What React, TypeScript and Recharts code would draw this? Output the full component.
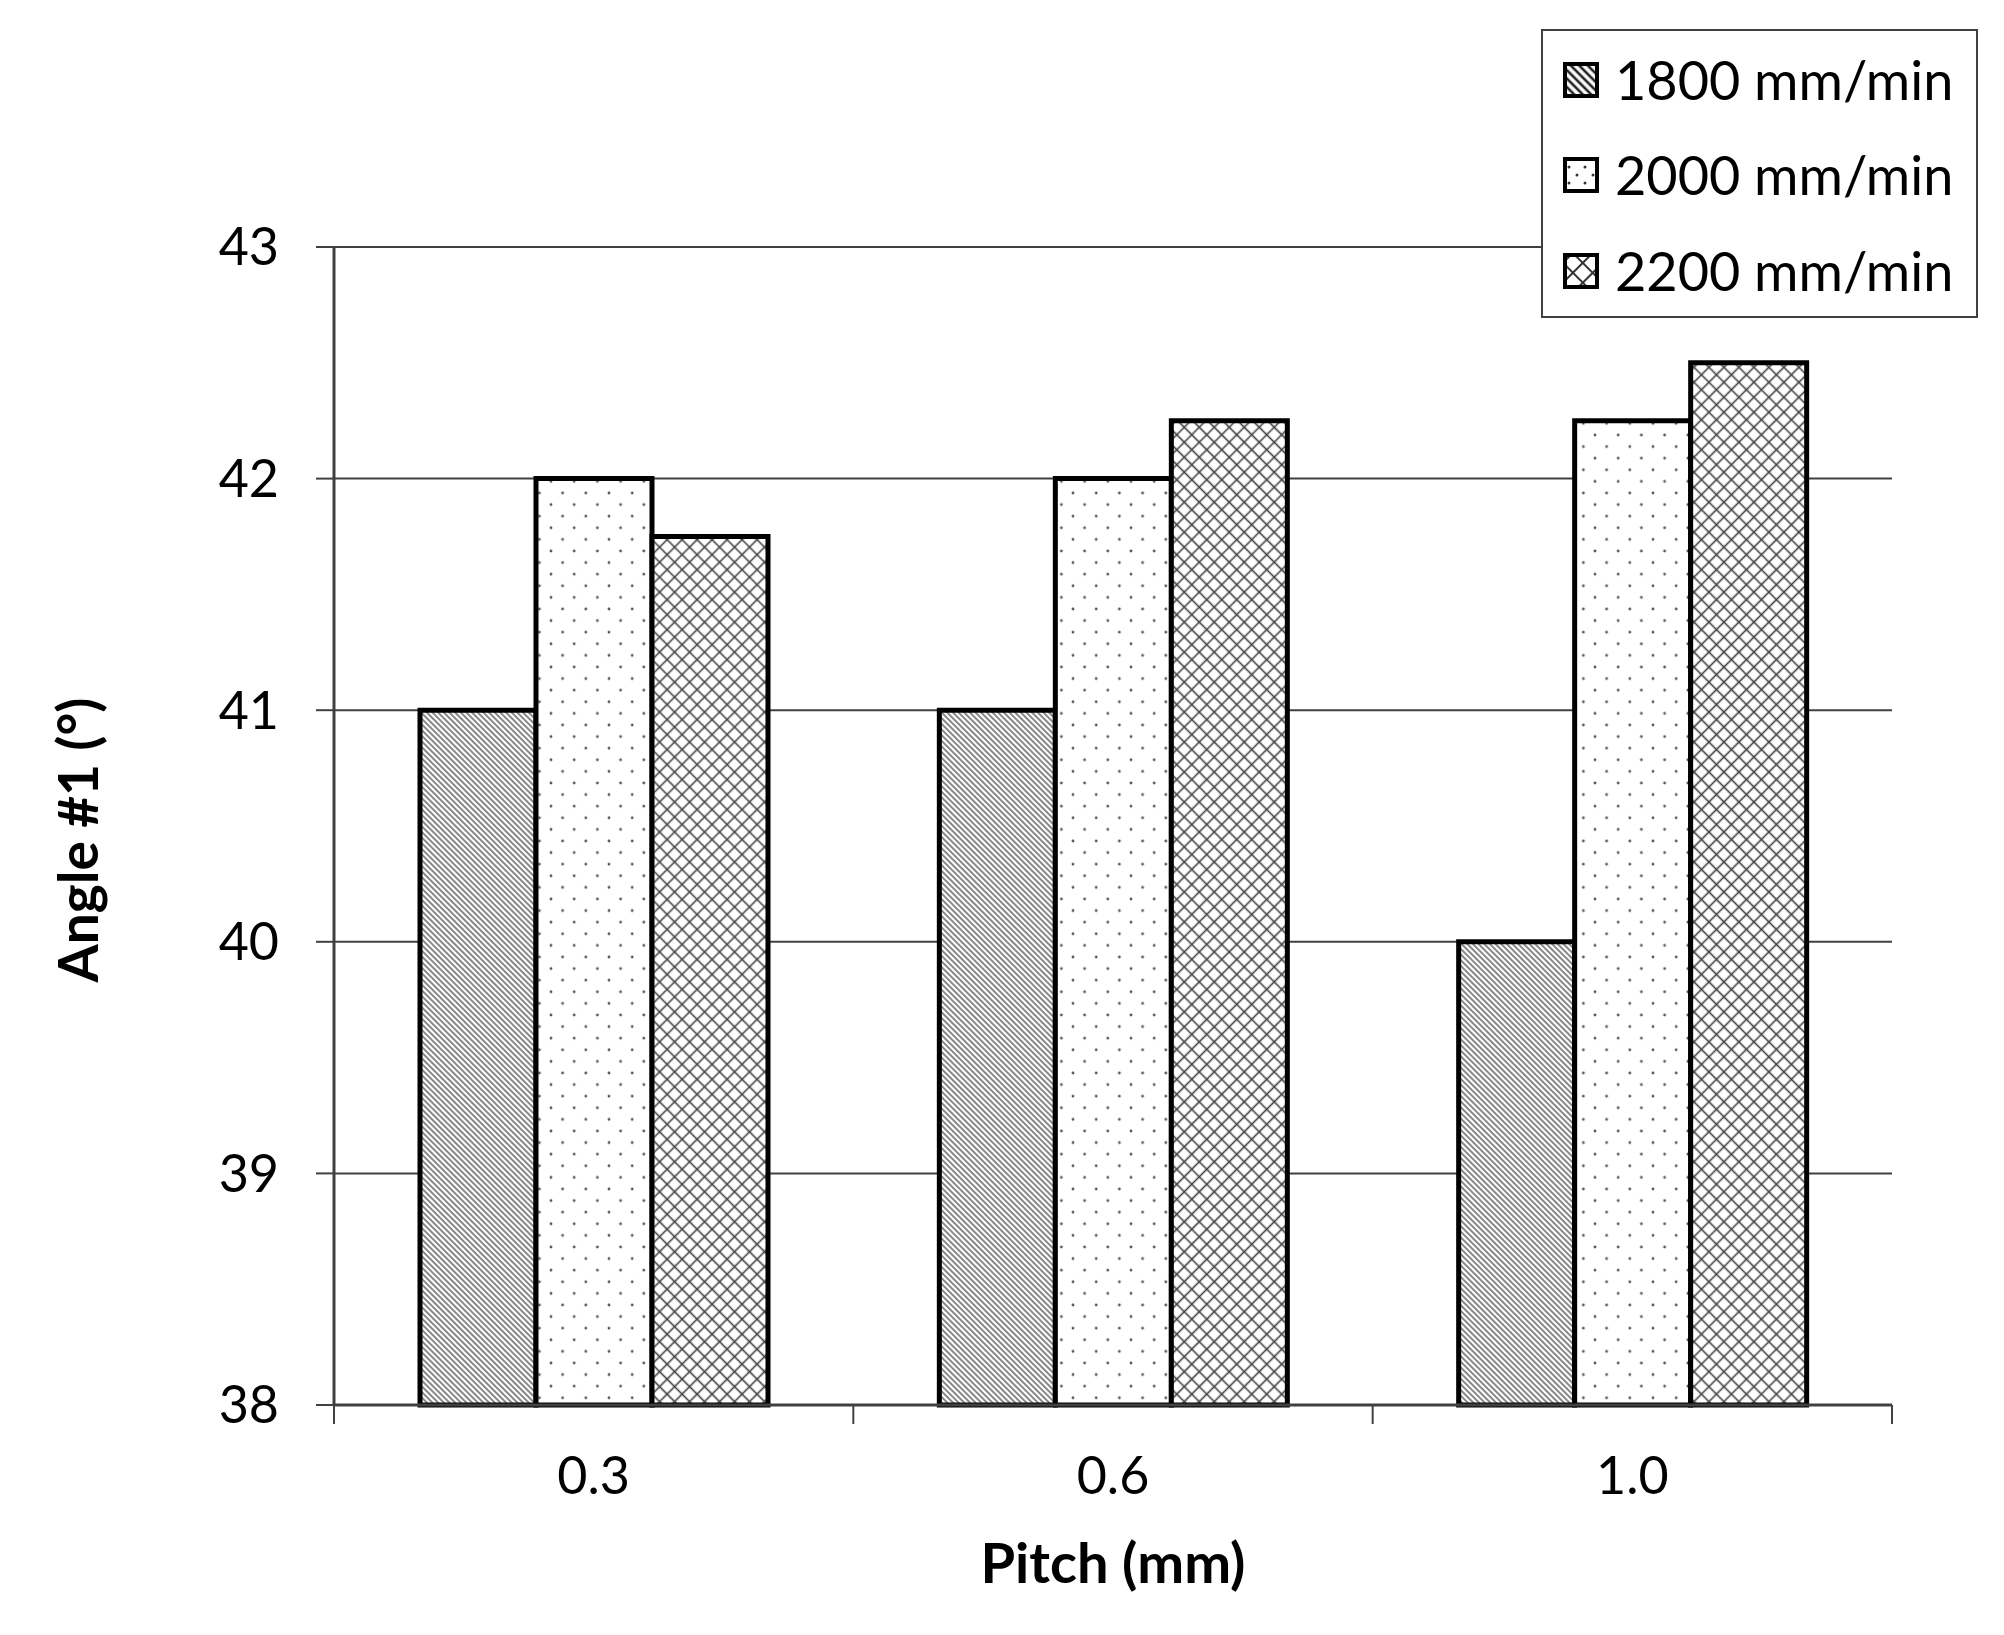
import React from "react";
import { BarChart, Bar, XAxis, YAxis, CartesianGrid, Legend } from "recharts";

const pitchLabels = ["0.3", "0.6", "1.0"];
const angle1800 = [41, 41, 40];
const angle2000 = [42, 42, 42.25];
const angle2200 = [41.75, 42.25, 42.5];
const angleTicks = [38, 39, 40, 41, 42, 43];
const seriesNames = ["1800 mm/min", "2000 mm/min", "2200 mm/min"];

const data = pitchLabels.map((pitch, i) => ({
  pitch,
  f1800: angle1800[i],
  f2000: angle2000[i],
  f2200: angle2200[i],
}));

const series = [
  { key: "f1800", name: seriesNames[0], fill: "url(#hatch1800)", swatch: "url(#lgHatch1800)" },
  { key: "f2000", name: seriesNames[1], fill: "url(#dots2000)", swatch: "url(#lgDots2000)" },
  { key: "f2200", name: seriesNames[2], fill: "url(#cross2200)", swatch: "url(#lgCross2200)" },
];

const W = 2004;
const H = 1635;
const margin = { top: 247, right: 112, bottom: 0, left: 0 };
const Y_W = 334;
const X_H = 230;
const band = (W - margin.right - Y_W) / pitchLabels.length;
const FONT = "Lato, 'Open Sans', sans-serif";
const INK = "#404040";

const PitchTick = (props: any) => {
  const { x, y, payload, index } = props;
  const half = band / 2;
  return (
    <g>
      <line x1={x - half} x2={x - half} y1={y} y2={y + 19} stroke={INK} strokeWidth={2} />
      {index === pitchLabels.length - 1 && (
        <line x1={x + half} x2={x + half} y1={y} y2={y + 19} stroke={INK} strokeWidth={2} />
      )}
      <text x={x} y={y + 89} textAnchor="middle" fontSize={52} fontFamily={FONT} fill="#000">
        {payload.value}
      </text>
    </g>
  );
};

const XTitle = (props: any) => {
  const vb = props.viewBox;
  return (
    <text
      x={vb.x + vb.width / 2}
      y={vb.y + vb.height - 52}
      textAnchor="middle"
      fontSize={56}
      fontWeight={700}
      fontFamily={FONT}
      fill="#000"
    >
      Pitch (mm)
    </text>
  );
};

const YTitle = (props: any) => {
  const vb = props.viewBox;
  const cy = vb.y + vb.height / 2 + 14;
  return (
    <text
      transform={`translate(98, ${cy}) rotate(-90)`}
      textAnchor="middle"
      fontSize={55}
      fontWeight={700}
      fontFamily={FONT}
      fill="#000"
    >
      Angle #1 (°)
    </text>
  );
};

const LegendBox = () => (
  <div
    style={{
      width: 437,
      height: 289,
      boxSizing: "border-box",
      border: `2px solid ${INK}`,
      background: "#fff",
      paddingTop: 1,
    }}
  >
    <svg width={0} height={0} style={{ position: "absolute" }}>
      <defs>
        <pattern id="lgHatch1800" patternUnits="userSpaceOnUse" width={8} height={6} patternTransform="rotate(45)">
          <rect width={8} height={6} fill="#fff" />
          <line x1={0} y1={3} x2={8} y2={3} stroke="#222" strokeWidth={2.6} />
        </pattern>
        <pattern id="lgDots2000" patternUnits="userSpaceOnUse" width={16} height={16}>
          <rect width={16} height={16} fill="#fff" />
          <circle cx={6} cy={10} r={1.5} fill="#333" />
          <circle cx={14} cy={2} r={1.5} fill="#333" />
        </pattern>
        <pattern id="lgCross2200" patternUnits="userSpaceOnUse" width={14} height={14} patternTransform="rotate(45)">
          <rect width={14} height={14} fill="#fff" />
          <line x1={0} y1={7} x2={14} y2={7} stroke="#333" strokeWidth={2} />
          <line x1={7} y1={0} x2={7} y2={14} stroke="#333" strokeWidth={2} />
        </pattern>
      </defs>
    </svg>
    {series.map((s) => (
      <div
        key={s.key}
        style={{ height: 95.5, display: "flex", alignItems: "center", paddingLeft: 20 }}
      >
        <svg width={36} height={36} style={{ flex: "none" }}>
          <rect x={2} y={2} width={32} height={32} fill={s.swatch} stroke="#000" strokeWidth={4} />
        </svg>
        <span style={{ marginLeft: 16, fontSize: 54, fontFamily: FONT, color: "#000", lineHeight: 1 }}>
          {s.name}
        </span>
      </div>
    ))}
  </div>
);

export default function App() {
  return (
    <div style={{ position: "absolute", left: 0, top: 0, background: "#fff" }}>
      <BarChart width={W} height={H} data={data} margin={margin} barGap={0} barSize={116}>
        <defs>
          <pattern id="hatch1800" patternUnits="userSpaceOnUse" width={8} height={4} patternTransform="rotate(45)">
            <rect width={8} height={4} fill="#fff" />
            <line x1={0} y1={2} x2={8} y2={2} stroke="#555" strokeWidth={1.4} />
          </pattern>
          <pattern id="dots2000" patternUnits="userSpaceOnUse" width={23.2} height={23.2}>
            <rect width={23.2} height={23.2} fill="#fff" />
            <circle cx={5.8} cy={5.8} r={1.4} fill="#555" />
            <circle cx={17.4} cy={17.4} r={1.4} fill="#555" />
          </pattern>
          <pattern id="cross2200" patternUnits="userSpaceOnUse" width={10.6} height={10.6} patternTransform="rotate(45)">
            <rect width={10.6} height={10.6} fill="#fff" />
            <line x1={0} y1={5.3} x2={10.6} y2={5.3} stroke="#444" strokeWidth={1.6} />
            <line x1={5.3} y1={0} x2={5.3} y2={10.6} stroke="#444" strokeWidth={1.6} />
          </pattern>
        </defs>
        <CartesianGrid vertical={false} stroke={INK} strokeWidth={2} />
        <XAxis
          dataKey="pitch"
          height={X_H}
          interval={0}
          tickSize={0}
          tickMargin={0}
          tickLine={false}
          axisLine={{ stroke: INK, strokeWidth: 3 }}
          tick={<PitchTick />}
          label={XTitle}
        />
        <YAxis
          width={Y_W}
          domain={[38, 43]}
          ticks={angleTicks}
          interval={0}
          tickSize={18}
          tickMargin={37}
          axisLine={{ stroke: INK, strokeWidth: 3 }}
          tickLine={{ stroke: INK, strokeWidth: 2 }}
          tick={{ fontSize: 52, fontFamily: FONT, fill: "#000" }}
          label={YTitle}
        />
        <YAxis
          yAxisId="right"
          orientation="right"
          width={0}
          domain={[38, 43]}
          ticks={angleTicks}
          tick={false}
          tickLine={false}
          axisLine={{ stroke: INK, strokeWidth: 2 }}
        />
        <Legend
          layout="horizontal"
          verticalAlign="middle"
          align="center"
          content={<LegendBox />}
          wrapperStyle={{ position: "absolute", left: 1541, top: 29, width: 437, height: 289 }}
        />
        {series.map((s) => (
          <Bar
            key={s.key}
            dataKey={s.key}
            name={s.name}
            fill={s.fill}
            stroke="#000"
            strokeWidth={5}
            isAnimationActive={false}
          />
        ))}
      </BarChart>
    </div>
  );
}
